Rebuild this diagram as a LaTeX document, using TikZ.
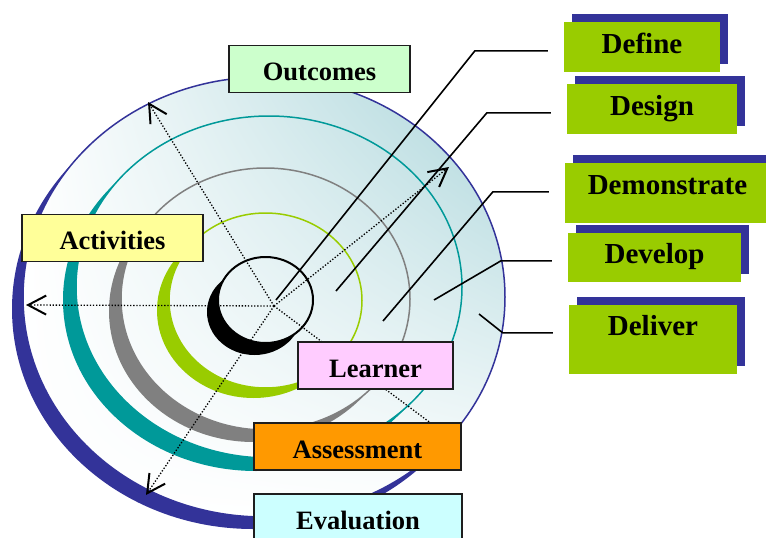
\documentclass[tikz,border=0pt]{standalone}
\usepackage{fontspec}
\setmainfont{Liberation Serif}
\usetikzlibrary{arrows.meta,shadows,shadings}

\definecolor{ringblue}{RGB}{51,51,153}
\definecolor{ringteal}{RGB}{0,153,153}
\definecolor{ringgray}{RGB}{128,128,128}
\definecolor{ringgreen}{RGB}{153,204,0}
\definecolor{discteal}{RGB}{170,213,218}
\definecolor{boxline}{RGB}{30,30,30}
\definecolor{outcomefill}{RGB}{204,255,204}
\definecolor{activityfill}{RGB}{255,255,153}
\definecolor{learnerfill}{RGB}{255,204,255}
\definecolor{assessfill}{RGB}{255,153,0}
\definecolor{evalfill}{RGB}{204,255,255}

\begin{document}
\begin{tikzpicture}[x=1pt, y=-1pt,
    disc/.style={upper left=white, upper right=discteal, lower left=white, lower right=white},
    ringline/.style={line width=1.5pt},
    dotline/.style={line width=1.3pt, dash pattern=on 1.3pt off 1.8pt},
    dotarrow/.style={dotline, -{Straight Barb[length=18pt, width=19pt, line width=2pt]}},
    leader/.style={line width=1.6pt},
    ringbox/.style={draw=boxline, line width=1.5pt, inner sep=0pt, minimum height=47pt,
      text height=23.5pt, text depth=0.5pt, font=\fontsize{26.5}{30}\selectfont\bfseries},
    phasebox/.style={fill=ringgreen, anchor=north, inner sep=0pt, text height=31pt, text depth=19pt,
      font=\fontsize{29}{32}\selectfont\bfseries,
      general shadow={shadow xshift=8pt, shadow yshift=8pt, fill=ringblue}}]
      \useasboundingbox (0,0) rectangle (766,538);

      % outer ring
      \fill[ringblue] (253,309) ellipse [x radius=241, y radius=220];
      \shade[disc] (264,297) ellipse [x radius=241, y radius=220];
      \draw[ringblue, ringline] (264,297) ellipse [x radius=241, y radius=220];

      \fill[ringteal] (256,300) ellipse [x radius=193, y radius=171];
      \begin{scope}
        \clip (269,287) ellipse [x radius=193, y radius=171];
        \shade[disc] (264,297) ellipse [x radius=241, y radius=220];
      \end{scope}
      \draw[ringteal, ringline] (269,287) ellipse [x radius=193, y radius=171];

      \fill[ringgray] (253.5,311) ellipse [x radius=144.5, y radius=131];
      \begin{scope}
        \clip (265.5,299) ellipse [x radius=144.5, y radius=131];
        \shade[disc] (264,297) ellipse [x radius=241, y radius=220];
      \end{scope}
      \draw[ringgray, ringline] (265.5,299) ellipse [x radius=144.5, y radius=131];

      \fill[ringgreen] (253.5,310.5) ellipse [x radius=96.5, y radius=87.5];
      \begin{scope}
        \clip (265.5,300.5) ellipse [x radius=96.5, y radius=87.5];
        \shade[disc] (264,297) ellipse [x radius=241, y radius=220];
      \end{scope}
      \draw[ringgreen, ringline] (265.5,300.5) ellipse [x radius=96.5, y radius=87.5];

      % learner core
      \fill[black] (254.5,312) ellipse [x radius=47.5, y radius=43];
      \begin{scope}
        \clip (265.5,300) ellipse [x radius=47.5, y radius=43];
        \shade[disc] (264,297) ellipse [x radius=241, y radius=220];
      \end{scope}
      \draw[black, line width=2pt] (265.5,300) ellipse [x radius=47.5, y radius=43];

      \coordinate (ctr) at (274,306);
      \coordinate (aWest) at (26,305);
      \coordinate (aNorthWest) at (148,102);
      \coordinate (aNorthEast) at (449,167);
      \coordinate (aSouthWest) at (146,495);
      \coordinate (aSouthEast) at (436,427);

      \draw[dotarrow] (ctr) -- (aWest);
      \draw[dotarrow] (ctr) -- (aNorthWest);
      \draw[dotarrow] (ctr) -- (aNorthEast);
      \draw[dotarrow] (ctr) -- (aSouthWest);
      \draw[dotline] (ctr) -- (aSouthEast);

      \coordinate (pDefine) at (276,300);
      \coordinate (pDesign) at (336,291);
      \coordinate (pDemonstrate) at (383,321);
      \coordinate (pDevelop) at (434,300);
      \coordinate (pDeliver) at (479,314);

      % phases
      \node[phasebox, minimum width=156pt, at={(642,22)}] (define) {Define};
      \node[phasebox, minimum width=170pt, at={(652,84)}] (design) {Design};
      \node[phasebox, minimum width=205pt, text depth=29pt, at={(667.5,163)}] (demonstrate) {Demonstrate};
      \node[phasebox, minimum width=173pt, text height=30pt, at={(654.5,233)}] (develop) {Develop};
      \node[phasebox, minimum width=168pt, text height=30pt, text depth=39pt, at={(653,305)}] (deliver) {Deliver};

      \draw[leader] ([xshift=-16pt]define.mid west) -- ++(-73,0) -- (pDefine);
      \draw[leader] ([xshift=-16pt]design.mid west) -- ++(-64,0) -- (pDesign);
      \draw[leader] ([xshift=-16pt]demonstrate.mid west) -- ++(-56,0) -- (pDemonstrate);
      \draw[leader] ([xshift=-16pt]develop.mid west) -- ++(-51,0) -- (pDevelop);
      \draw[leader] ([xshift=-16pt]deliver.mid west) -- ++(-50,0) -- (pDeliver);

      % rings
      \node[ringbox, fill=outcomefill, minimum width=181pt, at={(319.5,69)}] (outcomes) {Outcomes};
      \node[ringbox, fill=activityfill, minimum width=181pt, at={(112.5,238)}] (activities) {Activities};
      \node[ringbox, fill=learnerfill, minimum width=155pt, at={(375.5,365.5)}] (learner) {Learner};
      \node[ringbox, fill=assessfill, minimum width=207pt, at={(357.5,446.5)}] (assessment) {Assessment};
      \node[ringbox, fill=evalfill, minimum width=208pt, at={(358,517.5)}] (evaluation) {Evaluation};
    \end{tikzpicture}
\end{document}
